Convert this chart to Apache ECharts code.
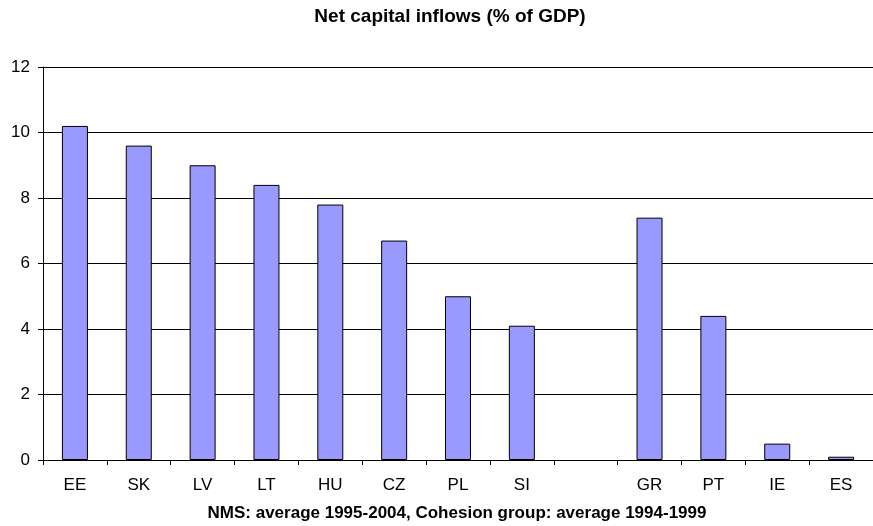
<!DOCTYPE html>
<html>
<head>
<meta charset="utf-8">
<script src="https://cdn.jsdelivr.net/npm/echarts@6/dist/echarts.min.js"></script>
<style>
  html, body { margin: 0; padding: 0; background: #fff; }
  #chart { width: 873px; height: 526px; }
</style>
</head>
<body>
<div id="chart"></div>
<script>
  // country codes, blank slot splits NMS from cohesion group
  const countries = ['EE', 'SK', 'LV', 'LT', 'HU', 'CZ', 'PL', 'SI', '', 'GR', 'PT', 'IE', 'ES'];
  const inflows = [10.2, 9.6, 9.0, 8.4, 7.8, 6.7, 5.0, 4.1, null, 7.4, 4.4, 0.5, 0.1];
  const yTicks = [0, 2, 4, 6, 8, 10, 12];

  const chart = echarts.init(document.getElementById('chart'));
  chart.setOption({
    animation: false,
    textStyle: { fontFamily: 'Liberation Sans, Arial, sans-serif' },
    title: [
      {
        text: 'Net capital inflows (% of GDP)',
        left: 445, top: 2, textAlign: 'center',
        textStyle: { fontSize: 19, fontWeight: 'bold', color: '#000' }
      },
      {
        text: 'NMS: average 1995-2004, Cohesion group: average 1994-1999',
        left: 452, top: 500, textAlign: 'center',
        textStyle: { fontSize: 17, fontWeight: 'bold', color: '#000' }
      }
    ],
    grid: { left: 43, top: 67, width: 838, height: 393, containLabel: false },
    xAxis: {
      type: 'category',
      data: countries,
      axisLine: { lineStyle: { color: '#000', width: 1 } },
      axisTick: { show: true, length: 5, lineStyle: { color: '#000' } },
      axisLabel: { color: '#000', fontSize: 17, margin: 17 }
    },
    yAxis: {
      type: 'value',
      min: yTicks[0], max: yTicks[yTicks.length - 1], interval: 2,
      axisLine: { show: true, lineStyle: { color: '#000', width: 1 } },
      axisTick: { show: true, length: 5, lineStyle: { color: '#000' } },
      axisLabel: { color: '#000', fontSize: 17, margin: 13 },
      splitLine: { lineStyle: { color: '#000', width: 1 } }
    },
    series: [
      {
        type: 'bar',
        data: inflows,
        barWidth: 26,
        itemStyle: { color: '#9999ff', borderColor: '#000', borderWidth: 1 }
      }
    ]
  });
</script>
</body>
</html>
